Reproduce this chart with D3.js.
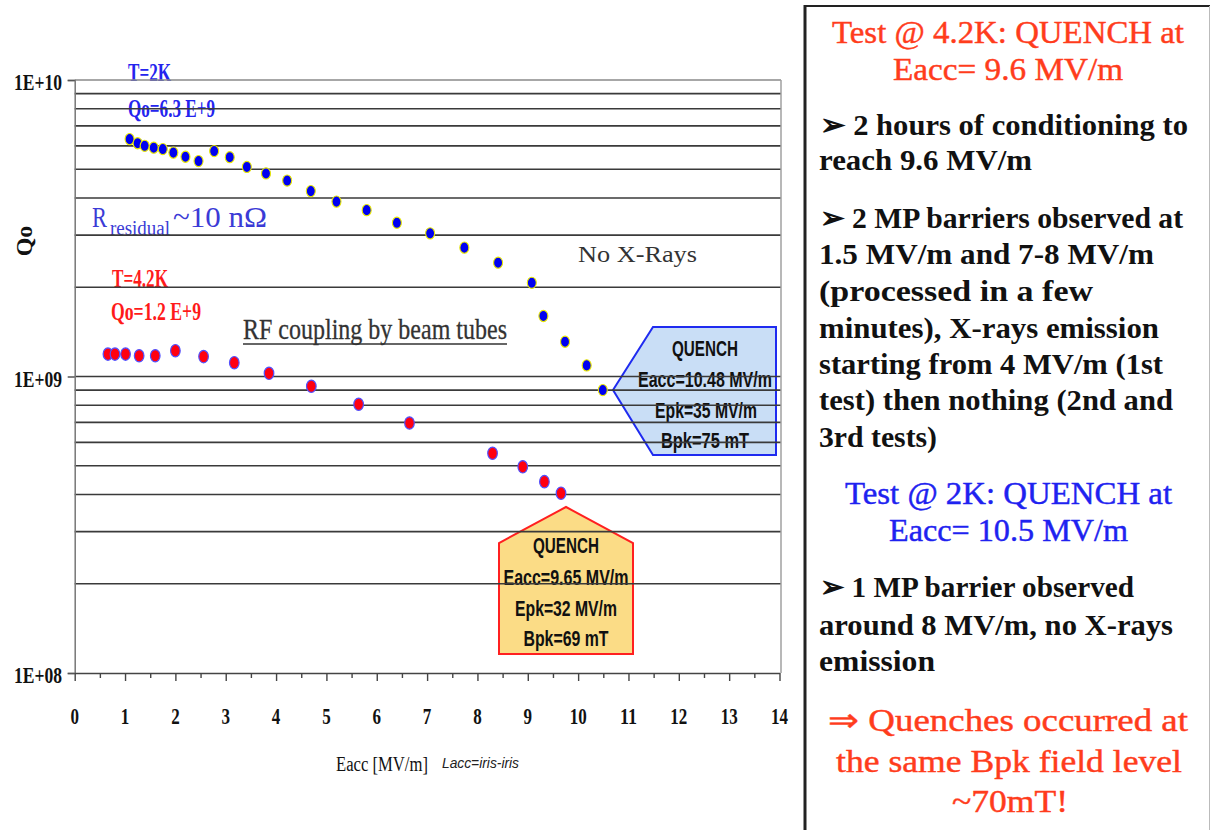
<!DOCTYPE html>
<html>
<head>
<meta charset="utf-8">
<script src="https://cdn.jsdelivr.net/npm/d3@7"></script>
<style>
body { margin: 0; background: #fff; }
</style>
</head>
<body>
<script>
// Q0 vs Eacc
// test at 2K (blue dots)
const eacc2K = [1.09, 1.25, 1.39, 1.57, 1.75, 1.96, 2.20, 2.46, 2.77, 3.08, 3.42, 3.80, 4.22,
    4.69, 5.20, 5.80, 6.40, 7.06, 7.74, 8.41, 9.08, 9.31, 9.74, 10.17, 10.49];
const qo2K = [6.32e9, 6.12e9, 6.00e9, 5.91e9, 5.85e9, 5.69e9, 5.51e9, 5.33e9, 5.76e9, 5.49e9,
    5.09e9, 4.84e9, 4.58e9, 4.22e9, 3.89e9, 3.64e9, 3.30e9, 3.04e9, 2.72e9, 2.42e9,
    2.07e9, 1.60e9, 1.31e9, 1.09e9, 0.90e9];
// test at 4.2K (red dots)
const eacc42K = [0.66, 0.80, 1.01, 1.28, 1.60, 2.00, 2.56, 3.17, 3.86, 4.70, 5.64, 6.65,
    8.30, 8.90, 9.33, 9.66];
const qo42K = [1.19e9, 1.19e9, 1.19e9, 1.175e9, 1.175e9, 1.222e9, 1.167e9, 1.113e9, 1.025e9,
    0.927e9, 0.806e9, 0.697e9, 0.551e9, 0.496e9, 0.442e9, 0.404e9];

const xTicks = [0, 1, 2, 3, 4, 5, 6, 7, 8, 9, 10, 11, 12, 13, 14];
const yTicks = [1e8, 1e9, 1e10];
const yTickLabels = ["1E+08", "1E+09", "1E+10"];

const w = 1211;
const h = 830;

const svg = d3.select("body")
    .append("svg")
    .attr("width", w)
    .attr("height", h)
    .style("background-color", "#fff");

const x = d3.scaleLinear().domain([0, 14]).range([74.7, 779.5]);
const y = d3.scaleLog().domain([1e8, 1e10]).range([673, 80]);

const serif = "'Liberation Serif', 'Times New Roman', serif";
const sans = "'Liberation Sans', Arial, sans-serif";

// text helper, squeezes text into the measured width
function label(str, px, py, len, size, opts) {
    opts = opts || {};
    const t = svg.append("text")
        .attr("x", px)
        .attr("y", py)
        .attr("font-family", opts.font || serif)
        .attr("font-size", size)
        .attr("font-weight", opts.weight || "normal")
        .attr("font-style", opts.style || "normal")
        .attr("fill", opts.color || "#111")
        .attr("text-anchor", opts.anchor || "start")
        .text(str);
    if (len) {
        t.attr("textLength", len).attr("lengthAdjust", "spacingAndGlyphs");
    }
    if (opts.thick) {
        t.attr("stroke", opts.color).attr("stroke-width", opts.thick);
    }
    return t;
}

// quench call-out boxes
svg.append("polygon")
    .attr("points", [[613, 390], [653, 327], [776, 327], [776, 455], [653, 455]].join(" "))
    .attr("fill", "#c9def6")
    .attr("stroke", "#1f2bf0")
    .attr("stroke-width", 2);
svg.append("polygon")
    .attr("points", [[566, 507], [633, 543], [633, 654], [499, 654], [499, 543]].join(" "))
    .attr("fill", "#fbdc86")
    .attr("stroke", "#ff2020")
    .attr("stroke-width", 2);

const boxB = {font: sans, weight: "bold", anchor: "middle", color: "#111"};
label("QUENCH", 705, 356, 66, 22, boxB);
label("Eacc=10.48 MV/m", 705, 387, 134, 22, boxB);
label("Epk=35 MV/m", 706, 418, 102, 22, boxB);
label("Bpk=75 mT", 705, 448, 88, 22, boxB);

label("QUENCH", 566, 553, 66, 22, boxB);
label("Eacc=9.65 MV/m", 566, 585, 125, 22, boxB);
label("Epk=32 MV/m", 566, 616, 102, 22, boxB);
label("Bpk=69 mT", 566, 646, 85, 22, boxB);

// annotations in the plot
label("T=2K", 128, 81, 43, 26, {color: "#2424ee", weight: "bold"});
label("Qo=6.3 E+9", 128, 117, 87, 26, {color: "#2424ee", weight: "bold"});
label("T=4.2K", 112, 287, 56, 26, {color: "#ff1a1a", weight: "bold"});
label("Qo=1.2 E+9", 111, 320, 90, 26, {color: "#ff1a1a", weight: "bold"});

label("R", 92, 227, 15, 30, {color: "#3b3bd6"});
label("residual", 110, 235, 60, 20, {color: "#3b3bd6"});
label("~10 n\u03a9", 173, 227, 94, 30, {color: "#3b3bd6"});

label("RF coupling by beam tubes", 243, 339, 264, 29, {color: "#333", thick: 0.3});
svg.append("line")
    .attr("x1", 243).attr("x2", 507)
    .attr("y1", 344).attr("y2", 344)
    .attr("stroke", "#333")
    .attr("stroke-width", 1.5);

label("No X-Rays", 578, 262, 119, 23, {color: "#333"});

// horizontal grid on every log tick
const gridVals = y.ticks().filter(function(d) { return d > 1e8; });
svg.append("g")
    .selectAll("line")
    .data(gridVals)
    .enter()
    .append("line")
    .attr("x1", x(0))
    .attr("x2", 781)
    .attr("y1", function(d) { return y(d); })
    .attr("y2", function(d) { return y(d); })
    .attr("stroke", function(d) { return d === 1e10 ? "#8a8a8a" : "#3a3a3a"; })
    .attr("stroke-width", 1.7);

// right edge of the plot
svg.append("line")
    .attr("x1", 781).attr("x2", 781)
    .attr("y1", y(1e10)).attr("y2", y(1e8))
    .attr("stroke", "#a0a0a0")
    .attr("stroke-width", 1.5);

// y axis
const yAxis = d3.axisLeft(y)
    .tickValues(yTicks)
    .tickSize(7)
    .tickFormat("");
const yg = svg.append("g")
    .attr("transform", "translate(" + x(0) + ",0)")
    .call(yAxis);
yg.select(".domain").attr("stroke", "#777").attr("stroke-width", 1.5);
yg.selectAll(".tick line").attr("stroke", "#555").attr("stroke-width", 1.5);

yTicks.forEach(function(v, i) {
    label(yTickLabels[i], 62, y(v) + 10, 48, 24, {weight: "bold", anchor: "end"});
});

// x axis with half-unit minor ticks
const xg = svg.append("g")
    .attr("transform", "translate(0," + y(1e8) + ")")
    .call(d3.axisBottom(x)
        .tickValues(d3.range(0, 14.01, 0.5))
        .tickSize(8)
        .tickSizeOuter(0)
        .tickFormat(""));
xg.select(".domain").attr("stroke", "#444").attr("stroke-width", 1.6);
xg.selectAll(".tick line")
    .attr("stroke", "#444")
    .attr("stroke-width", 1.4)
    .attr("y2", function(d) { return d % 1 === 0 ? 8 : 5; });

xTicks.forEach(function(v) {
    const s = String(v);
    label(s, x(v), 724, s.length * 8.5, 24, {weight: "bold", anchor: "middle"});
});

label("Eacc [MV/m]", 336, 771, 92, 20);
label("Lacc=iris-iris", 442, 768, 77, 14, {font: sans, style: "italic", color: "#222"});

label("Qo", 0, 0, 0, 24, {weight: "bold", anchor: "middle"})
    .attr("transform", "translate(32,241) rotate(-90)");

// data points
svg.append("g")
    .selectAll("ellipse")
    .data(eacc42K)
    .enter()
    .append("ellipse")
    .attr("cx", function(d) { return x(d); })
    .attr("cy", function(d, i) { return y(qo42K[i]); })
    .attr("rx", 4.8)
    .attr("ry", 6.2)
    .attr("fill", "#ff0010")
    .attr("stroke", "#5050ff")
    .attr("stroke-width", 1.2);

svg.append("g")
    .selectAll("ellipse")
    .data(eacc2K)
    .enter()
    .append("ellipse")
    .attr("cx", function(d) { return x(d); })
    .attr("cy", function(d, i) { return y(qo2K[i]); })
    .attr("rx", 4.5)
    .attr("ry", 5.6)
    .attr("fill", "#0000f0")
    .attr("stroke", "#e8e800")
    .attr("stroke-width", 1.1);

// text panel on the right
svg.append("line").attr("x1", 805).attr("x2", 805).attr("y1", 5).attr("y2", h)
    .attr("stroke", "#222").attr("stroke-width", 3);
svg.append("line").attr("x1", 804).attr("x2", 1210).attr("y1", 6).attr("y2", 6)
    .attr("stroke", "#222").attr("stroke-width", 2);
svg.append("line").attr("x1", 1209.5).attr("x2", 1209.5).attr("y1", 6).attr("y2", h)
    .attr("stroke", "#bbb").attr("stroke-width", 1);

const red = "#ff3c1c";
const blue = "#1e22f0";
const panelLines = [
    ["Test @ 4.2K: QUENCH at", 832, 43, 352, red, "normal"],
    ["Eacc= 9.6 MV/m", 893, 80, 230, red, "normal"],
    ["\u27a2 2 hours of conditioning to", 820, 135, 368, "#111", "bold"],
    ["reach 9.6 MV/m", 819, 170, 213, "#111", "bold"],
    ["\u27a2 2 MP barriers observed at", 820, 228, 363, "#111", "bold"],
    ["1.5 MV/m and 7-8 MV/m", 819, 264, 335, "#111", "bold"],
    ["(processed in a few", 819, 301, 274, "#111", "bold"],
    ["minutes), X-rays emission", 819, 338, 340, "#111", "bold"],
    ["starting from 4 MV/m (1st", 819, 374, 344, "#111", "bold"],
    ["test) then nothing (2nd and", 819, 410, 354, "#111", "bold"],
    ["3rd tests)", 819, 447, 118, "#111", "bold"],
    ["Test @ 2K: QUENCH at", 845, 504, 327, blue, "normal"],
    ["Eacc= 10.5 MV/m", 889, 541, 239, blue, "normal"],
    ["\u27a2 1 MP barrier observed", 820, 597, 314, "#111", "bold"],
    ["around 8 MV/m, no X-rays", 819, 635, 354, "#111", "bold"],
    ["emission", 819, 671, 116, "#111", "bold"],
    ["\u21d2 Quenches occurred at", 828, 731, 360, red, "normal"],
    ["the same Bpk field level", 836, 772, 346, red, "normal"],
    ["~70mT!", 952, 812, 116, red, "normal"]
];
panelLines.forEach(function(l) {
    const bold = l[5] === "bold";
    label(l[0], l[1], l[2], l[3], bold ? 30 : 32,
        {color: l[4], weight: l[5], thick: bold ? 0 : 0.45});
});
</script>
</body>
</html>
